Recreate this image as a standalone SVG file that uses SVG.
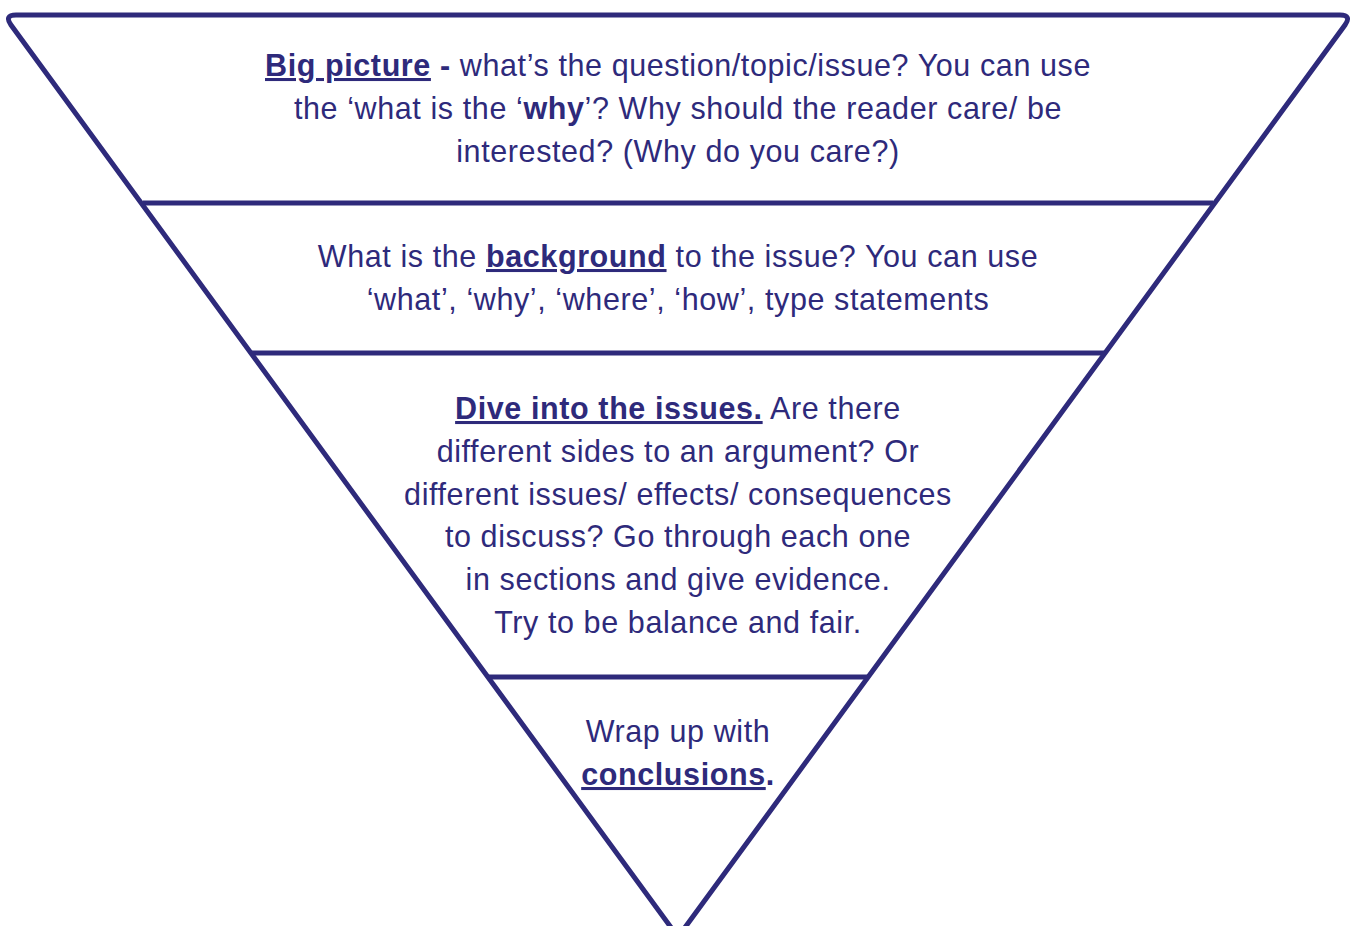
<svg xmlns="http://www.w3.org/2000/svg" width="1355" height="926" viewBox="0 0 1355 926">
<style>
.t{font-family:"Liberation Sans",Arial,sans-serif;font-size:30.5px;letter-spacing:0.6px;fill:#2e2a7b;text-anchor:middle}
.b{font-weight:bold}
.u{text-decoration:underline}
.ln{stroke:#2e2a7b;stroke-width:5;fill:none}
</style>
<rect width="1355" height="926" fill="#fff"/>
<g id="connectors">
<path class="ln" stroke-linejoin="round" d="M16,15 L1340,15 Q1352,15 1345,25 L678,937 L11,25 Q4,15 16,15 Z"/>
<line class="ln" x1="143" y1="203" x2="1213" y2="203"/>
<line class="ln" x1="252" y1="353" x2="1104" y2="353"/>
<line class="ln" x1="487" y1="677" x2="868" y2="677"/>
</g>
<g id="node1">
<text class="t" x="678" y="76"><tspan class="b u">Big picture</tspan><tspan class="b"> - </tspan>what’s the question/topic/issue? You can use</text>
<text class="t" x="678" y="119">the ‘what is the ‘<tspan class="b">why</tspan>’? Why should the reader care/ be</text>
<text class="t" x="678" y="162">interested? (Why do you care?)</text>
</g>
<g id="node2">
<text class="t" x="678" y="267">What is the <tspan class="b u">background</tspan> to the issue? You can use</text>
<text class="t" x="678" y="310">‘what’, ‘why’, ‘where’, ‘how’, type statements</text>
</g>
<g id="node3">
<text class="t" x="678" y="419"><tspan class="b u">Dive into the issues.</tspan> Are there</text>
<text class="t" x="678" y="462">different sides to an argument? Or</text>
<text class="t" x="678" y="505">different issues/ effects/ consequences</text>
<text class="t" x="678" y="547">to discuss? Go through each one</text>
<text class="t" x="678" y="590">in sections and give evidence.</text>
<text class="t" x="678" y="633">Try to be balance and fair.</text>
</g>
<g id="node4">
<text class="t" x="678" y="742">Wrap up with</text>
<text class="t" x="678" y="785"><tspan class="b u">conclusions</tspan><tspan class="b">.</tspan></text>
</g>
</svg>
